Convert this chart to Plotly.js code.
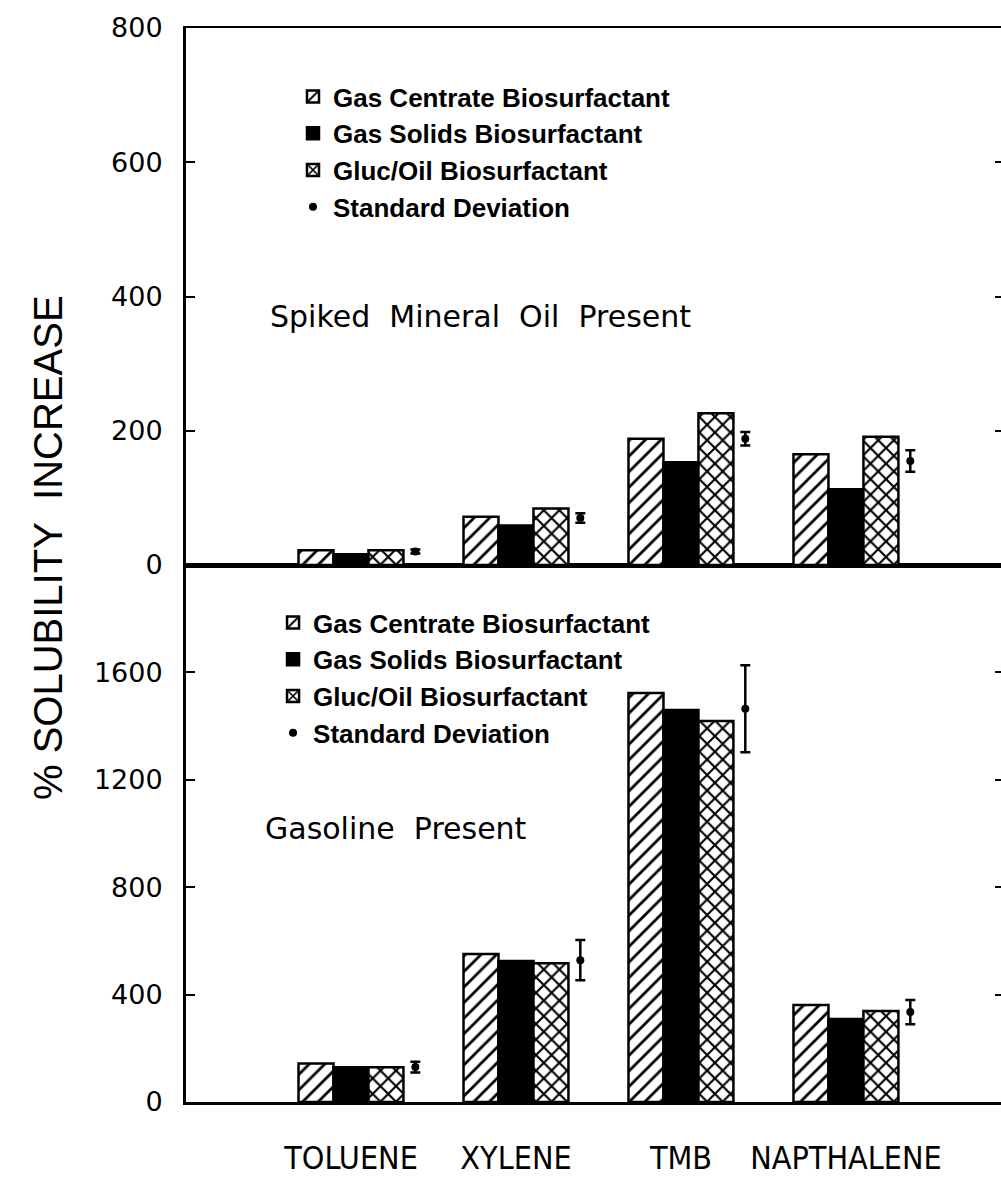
<!DOCTYPE html>
<html>
<head>
<meta charset="utf-8">
<script src="https://cdn.plot.ly/plotly-3.0.1.min.js"></script>
<style>
html,body{margin:0;padding:0;background:#fff;overflow:hidden;}
#chart{width:1006px;height:1177px;}
</style>
</head>
<body>
<div id="chart"></div>
<script>
// ---- data ----
var categories = ["TOLUENE", "XYLENE", "TMB", "NAPTHALENE"];
var seriesNames = ["Gas Centrate Biosurfactant", "Gas Solids Biosurfactant", "Gluc/Oil Biosurfactant"];
var sdName = "Standard Deviation";

// Spiked Mineral Oil Present (top panel)
var oilCentrate = [22, 72, 188, 165];
var oilSolids   = [16, 59, 153, 113];
var oilGlucOil  = [22, 84, 226, 191];
var oilMean     = [20, 70, 188, 155];
var oilSD       = [3, 7, 10, 16];

// Gasoline Present (bottom panel)
var gasCentrate = [143, 551, 1523, 361];
var gasSolids   = [129, 525, 1460, 309];
var gasGlucOil  = [129, 517, 1419, 339];
var gasMean     = [130, 528, 1465, 335];
var gasSD       = [20, 75, 162, 45];

var topTicks = [0, 200, 400, 600, 800];
var bottomTicks = [0, 400, 800, 1200, 1600];

// ---- build ----
var idx = categories.map(function(c, i){ return i + 1; });
var sdX = idx.map(function(v){ return v + 0.39; });

var styles = [
  {color: "#fff", line: {color: "#000", width: 2.5}, pattern: {shape: "/", fgcolor: "#000", bgcolor: "#fff", size: 11, solidity: 0.25}},
  {color: "#000", line: {color: "#000", width: 2.5}},
  {color: "#fff", line: {color: "#000", width: 2.5}, pattern: {shape: "x", fgcolor: "#000", bgcolor: "#fff", size: 11, solidity: 0.35}}
];

function panel(vals, mean, sd, xa, ya, leg){
  var tr = vals.map(function(v, k){
    return {type: "bar", x: idx, y: v, name: seriesNames[k], xaxis: xa, yaxis: ya,
            legend: leg, marker: styles[k], hoverinfo: "skip"};
  });
  tr.push({type: "scatter", mode: "markers", x: sdX, y: mean, name: sdName,
           xaxis: xa, yaxis: ya, legend: leg, hoverinfo: "skip",
           marker: {color: "#000", size: 8},
           error_y: {type: "data", array: sd, visible: true, color: "#000", thickness: 2.5, width: 5}});
  return tr;
}

var data = panel([oilCentrate, oilSolids, oilGlucOil], oilMean, oilSD, "x2", "y2", "legend")
  .concat(panel([gasCentrate, gasSolids, gasGlucOil], gasMean, gasSD, "x", "y", "legend2"));

var tickFont = {family: "DejaVu Sans", size: 27, color: "#000"};
var xr = [0, 4.958];
var legFont = {family: "Liberation Sans", size: 26, weight: "bold", color: "#000"};

var layout = {
  width: 1006, height: 1177,
  margin: {l: 186, r: 2, t: 28, b: 75},
  paper_bgcolor: "#fff", plot_bgcolor: "#fff",
  barmode: "group", bargap: 0.364, bargroupgap: 0,
  showlegend: true,
  xaxis: {domain: [0, 1], range: xr, anchor: "y", tickvals: idx, ticktext: categories,
          ticks: "", showline: true, mirror: true, linecolor: "#000", linewidth: 2.5,
          showgrid: false, zeroline: false, ticklabelstandoff: 26,
          tickfont: {family: "Liberation Sans Narrow, DejaVu Sans Condensed, Liberation Sans", size: 32, color: "#000"}},
  xaxis2: {domain: [0, 1], range: xr, anchor: "y2", showticklabels: false, ticks: "",
           showline: true, mirror: true, linecolor: "#000", linewidth: 2.5,
           showgrid: false, zeroline: false},
  yaxis: {domain: [0, 0.5], range: [0, 2000], anchor: "x", tickvals: bottomTicks,
          ticks: "inside", ticklen: 9, tickwidth: 2, tickcolor: "#000",
          showline: true, mirror: "ticks", linecolor: "#000", linewidth: 3,
          showgrid: false, zeroline: false, tickfont: tickFont, ticklabelstandoff: 15},
  yaxis2: {domain: [0.5, 1], range: [0, 800], anchor: "x2", tickvals: topTicks,
           ticks: "inside", ticklen: 9, tickwidth: 2, tickcolor: "#000",
           showline: true, mirror: "ticks", linecolor: "#000", linewidth: 3,
           showgrid: false, zeroline: false, tickfont: tickFont, ticklabelstandoff: 15},
  legend: {x: 0.1308, y: 0.9581, xanchor: "left", yanchor: "top", bgcolor: "rgba(0,0,0,0)",
           traceorder: "normal", font: legFont},
  legend2: {x: 0.1064, y: 0.4683, xanchor: "left", yanchor: "top", bgcolor: "rgba(0,0,0,0)",
            traceorder: "normal", font: legFont},
  annotations: [
    {text: "%\u00a0SOLUBILITY\u00a0\u00a0INCREASE", xref: "paper", yref: "paper",
     x: -0.1687, y: 0.5158, xanchor: "center", yanchor: "middle", textangle: -90, showarrow: false,
     font: {family: "Liberation Sans", size: 40, color: "#000"}},
    {text: "Spiked\u00a0\u00a0Mineral\u00a0\u00a0Oil\u00a0\u00a0Present", xref: "paper", yref: "paper",
     x: 0.1002, y: 0.7318, xanchor: "left", yanchor: "middle", showarrow: false,
     font: {family: "DejaVu Sans", size: 30, color: "#000"}},
    {text: "Gasoline\u00a0\u00a0Present", xref: "paper", yref: "paper",
     x: 0.0941, y: 0.2542, xanchor: "left", yanchor: "middle", showarrow: false,
     font: {family: "DejaVu Sans", size: 30, color: "#000"}}
  ]
};

Plotly.newPlot("chart", data, layout, {displayModeBar: false, staticPlot: true});
</script>
</body>
</html>
